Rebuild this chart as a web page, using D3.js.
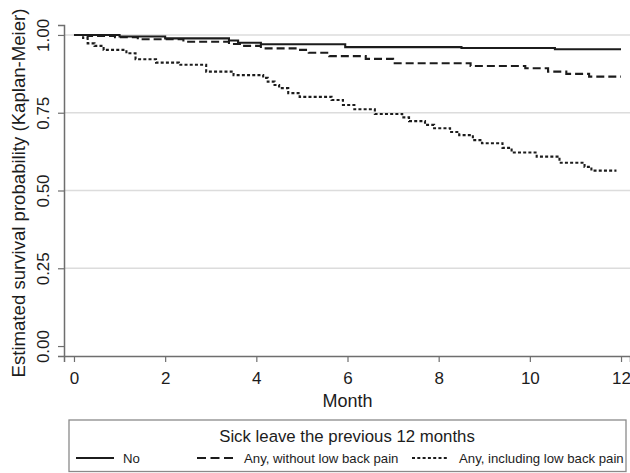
<!DOCTYPE html>
<html>
<head>
<meta charset="utf-8">
<script src="https://cdn.jsdelivr.net/npm/d3@7"></script>
<style>
  body { margin: 0; background: #fff; }
  svg { display: block; font-family: "Liberation Sans", Arial, sans-serif; }
</style>
</head>
<body>
<svg id="chart" width="630" height="473"></svg>
<script>
// Kaplan-Meier step curves (month, survival)
var noTimes = [0, 1.0, 2.0, 3.4, 3.6, 4.1, 5.95, 8.5, 10.55, 12];
var noSurv  = [1.000, 0.995, 0.989, 0.982, 0.975, 0.970, 0.961, 0.958, 0.954, 0.954];

var withoutTimes = [0, 0.3, 0.9, 1.4, 2.4, 3.4, 3.7, 4.1, 4.9, 5.15, 5.6, 6.4, 7.0, 8.7, 9.9, 10.4, 10.8, 11.3, 12];
var withoutSurv  = [1.000, 0.997, 0.993, 0.986, 0.978, 0.971, 0.965, 0.957, 0.952, 0.943, 0.932, 0.923, 0.909, 0.900, 0.893, 0.882, 0.875, 0.866, 0.866];

var inclTimes = [0, 0.2, 0.3, 0.45, 0.65, 1.15, 1.35, 1.8, 2.3, 2.9, 3.5, 4.15, 4.25, 4.4, 4.5, 4.7, 4.95,
                 5.65, 5.9, 6.15, 6.6, 7.2, 7.35, 7.7, 7.9, 8.25, 8.45, 8.75, 8.95, 9.4, 9.6, 10.15, 10.65, 11.2, 11.35, 11.9];
var inclSurv  = [1.000, 0.990, 0.973, 0.965, 0.952, 0.941, 0.922, 0.911, 0.904, 0.882, 0.871, 0.862, 0.850, 0.839, 0.829, 0.813, 0.801,
                 0.791, 0.775, 0.761, 0.746, 0.735, 0.723, 0.711, 0.700, 0.688, 0.678, 0.662, 0.652, 0.637, 0.622, 0.609, 0.589, 0.576, 0.564, 0.564];

var xTicks = [0, 2, 4, 6, 8, 10, 12];
var yTicks = [0, 0.25, 0.5, 0.75, 1];
var seriesNames = ['No', 'Any, without low back pain', 'Any, including low back pain'];

var svg = d3.select('#chart');
var ink = '#1c1c1c';
var font = '"Liberation Sans", Arial, sans-serif';

var x = d3.scaleLinear().domain([-0.219, 12.197]).range([64, 630]);
var y = d3.scaleLinear().domain([-0.032, 1.032]).range([356, 25]);

// gridlines
svg.append('g').selectAll('line')
    .data(yTicks.slice(1))
    .join('line')
    .attr('x1', 64).attr('x2', 630)
    .attr('y1', d => y(d)).attr('y2', d => y(d))
    .attr('stroke', '#dcdcdc')
    .attr('stroke-width', 1.6);

// axes
var xAxis = svg.append('g')
    .attr('transform', 'translate(0,356)')
    .call(d3.axisBottom(x).tickValues(xTicks).tickSize(6).tickPadding(10).tickFormat(d3.format('d')));
xAxis.selectAll('text').attr('font-size', 17).attr('fill', ink).style('font-family', font);

var yAxis = svg.append('g')
    .attr('transform', 'translate(64,0)')
    .call(d3.axisLeft(y).tickValues(yTicks).tickSize(6).tickFormat(d3.format('.2f')));
yAxis.selectAll('text')
    .attr('font-size', 17).attr('fill', ink)
    .style('font-family', font)
    .attr('text-anchor', 'middle')
    .attr('x', null).attr('dy', null)
    .attr('transform', 'translate(-15,0) rotate(-90)');

svg.selectAll('.domain').attr('stroke', '#6e6e6e').attr('stroke-width', 1.5);
svg.selectAll('.tick line').attr('stroke', '#6e6e6e').attr('stroke-width', 1.2);

// axis titles
svg.append('text')
    .attr('x', x(6)).attr('y', 407)
    .attr('text-anchor', 'middle')
    .attr('font-size', 18).attr('fill', ink)
    .text('Month');

svg.append('text')
    .attr('transform', 'translate(25,193) rotate(-90)')
    .attr('text-anchor', 'middle')
    .attr('font-size', 18.6).attr('fill', ink)
    .text('Estimated survival probability (Kaplan-Meier)');

// curves
var line = d3.line()
    .x(d => x(d[0]))
    .y(d => y(d[1]))
    .curve(d3.curveStepAfter);

var series = [
    { times: noTimes, surv: noSurv, dash: null },
    { times: withoutTimes, surv: withoutSurv, dash: '8,4' },
    { times: inclTimes, surv: inclSurv, dash: '3,2.2' }
];

series.forEach(function (s) {
    svg.append('path')
        .datum(s.times.map((t, i) => [t, s.surv[i]]))
        .attr('d', line)
        .attr('fill', 'none')
        .attr('stroke', ink)
        .attr('stroke-width', 2.1)
        .attr('stroke-dasharray', s.dash);
});

// legend
var legend = svg.append('g');
legend.append('rect')
    .attr('x', 69).attr('y', 420)
    .attr('width', 557).attr('height', 51.5)
    .attr('fill', '#fff')
    .attr('stroke', '#8a8a8a')
    .attr('stroke-width', 1.3);

legend.append('text')
    .attr('x', 347).attr('y', 442)
    .attr('text-anchor', 'middle')
    .attr('font-size', 16.8).attr('fill', ink)
    .text('Sick leave the previous 12 months');

var legItems = [
    { x1: 76, x2: 114, tx: 123, dash: null },
    { x1: 197, x2: 233, tx: 244, dash: '9,4.5' },
    { x1: 412, x2: 448, tx: 459, dash: '3,2.3' }
];

legItems.forEach(function (it, i) {
    legend.append('line')
        .attr('x1', it.x1).attr('x2', it.x2)
        .attr('y1', 458).attr('y2', 458)
        .attr('stroke', ink)
        .attr('stroke-width', 2)
        .attr('stroke-dasharray', it.dash);
    legend.append('text')
        .attr('x', it.tx).attr('y', 463)
        .attr('font-size', 13.2).attr('fill', ink)
        .text(seriesNames[i]);
});
</script>
</body>
</html>
